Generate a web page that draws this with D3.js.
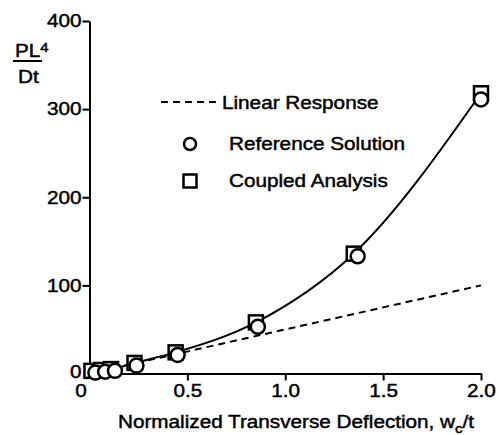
<!DOCTYPE html>
<html lang="en">
<head>
    <meta charset="UTF-8">
    <title>Normalized Transverse Deflection</title>
    <script src="https://d3js.org/d3.v7.min.js"></script>
    <style>
        body {
            margin: 0;
            background-color: white;
        }
        text {
            font-family: "Liberation Sans", Arial, sans-serif;
            font-size: 18px;
            fill: black;
            stroke: black;
            stroke-width: 0.45;
        }
        .axis path, .axis line {
            stroke: black;
            stroke-width: 2;
        }
    </style>
</head>
<body>
    <script>
        // data
        const refX = [0.03, 0.08, 0.13, 0.24, 0.45, 0.86, 1.37, 2.0];
        const refY = [1, 2, 3, 9, 21, 53, 133, 311];
        const cplX = [0.01, 0.06, 0.11, 0.23, 0.44, 0.85, 1.35, 2.0];
        const cplY = [3, 4, 5, 12, 24, 58, 136, 318];
        const linX = [0, 2.0];
        const linY = [0, 100];
        const xTicks = [0, 0.5, 1.0, 1.5, 2.0];
        const yTicks = [0, 100, 200, 300, 400];
        const legendLabels = ["Linear Response", "Reference Solution", "Coupled Analysis"];

        const width = 499, height = 435;
        const stretch = 1.15; // the scanned lettering is wider than Arial

        const svg = d3.select("body")
            .append("svg")
            .attr("width", width)
            .attr("height", height);

        const x = d3.scaleLinear().domain([0, 2.0]).range([89.5, 481]);
        const y = d3.scaleLinear().domain([0, 400]).range([373.5, 21]);

        // x axis
        const xAxis = svg.append("g")
            .attr("class", "axis")
            .attr("transform", `translate(0,${y(0)})`)
            .call(d3.axisBottom(x).tickValues(xTicks).tickFormat(d3.format(".1f"))
                .tickSize(7).tickSizeOuter(0).tickPadding(4));
        xAxis.selectAll("text").text(d => d === 0 ? "0" : d3.format(".1f")(d))
            .attr("dx", d => d === 0 ? -9 : 0);
        xAxis.selectAll(".tick").filter(d => d === 0).select("line").remove();

        // y axis
        const yAxis = svg.append("g")
            .attr("class", "axis")
            .attr("transform", `translate(${x(0)},0)`)
            .call(d3.axisLeft(y).tickValues(yTicks).tickSize(7).tickSizeOuter(0).tickPadding(1));
        yAxis.selectAll(".tick").filter(d => d === 0).select("line").remove();
        yAxis.selectAll(".tick").filter(d => d === 0).select("text").attr("dy", "0.2em");
        svg.selectAll(".axis text").attr("font-size", 18).attr("font-family", null);

        // linear response
        const line = d3.line().x(d => x(d[0])).y(d => y(d[1]));
        svg.append("path")
            .datum(d3.zip(linX, linY))
            .attr("d", line)
            .attr("fill", "none")
            .attr("stroke", "black")
            .attr("stroke-width", 2)
            .attr("stroke-dasharray", "7,5");

        // coupled analysis curve
        svg.append("path")
            .datum(d3.zip(cplX, cplY))
            .attr("d", line.curve(d3.curveMonotoneX))
            .attr("fill", "none")
            .attr("stroke", "black")
            .attr("stroke-width", 2);

        // markers: squares under circles
        const sq = 14;
        svg.selectAll(".cpl")
            .data(d3.zip(cplX, cplY))
            .enter().append("rect")
            .attr("class", "cpl")
            .attr("x", d => x(d[0]) - sq / 2)
            .attr("y", d => y(d[1]) - sq / 2)
            .attr("width", sq)
            .attr("height", sq)
            .attr("fill", "white")
            .attr("stroke", "black")
            .attr("stroke-width", 2.5);

        svg.selectAll(".ref")
            .data(d3.zip(refX, refY))
            .enter().append("circle")
            .attr("class", "ref")
            .attr("cx", d => x(d[0]))
            .attr("cy", d => y(d[1]))
            .attr("r", 7)
            .attr("fill", "white")
            .attr("stroke", "black")
            .attr("stroke-width", 2.5);

        // legend
        const lg = svg.append("g");
        lg.append("line")
            .attr("x1", 161).attr("x2", 216)
            .attr("y1", 102).attr("y2", 102)
            .attr("stroke", "black").attr("stroke-width", 2)
            .attr("stroke-dasharray", "7,5");
        lg.append("circle")
            .attr("cx", 190).attr("cy", 144).attr("r", 6)
            .attr("fill", "white").attr("stroke", "black").attr("stroke-width", 2.5);
        lg.append("rect")
            .attr("x", 190 - 6.5).attr("y", 181 - 6.5).attr("width", 13).attr("height", 13)
            .attr("fill", "white").attr("stroke", "black").attr("stroke-width", 2.5);
        lg.selectAll(".lbl")
            .data(legendLabels)
            .enter().append("text")
            .attr("class", "lbl")
            .attr("x", (d, i) => i === 0 ? 222 : 229)
            .attr("y", (d, i) => [109, 150, 187][i])
            .text(d => d);

        // x axis title
        const xt = svg.append("text")
            .attr("x", 118)
            .attr("y", 428);
        xt.append("tspan").text("Normalized Transverse Deflection, w");
        xt.append("tspan").attr("dy", 5).attr("font-size", 13).text("c");
        xt.append("tspan").attr("dy", -5).text("/t");

        // y axis title
        const yt = svg.append("text").attr("x", 15).attr("y", 57);
        yt.append("tspan").text("PL");
        yt.append("tspan").attr("dy", -5).attr("font-size", 13).text("4");
        svg.append("line")
            .attr("x1", 13).attr("x2", 42)
            .attr("y1", 61).attr("y2", 61)
            .attr("stroke", "black").attr("stroke-width", 2);
        svg.append("text").attr("x", 18).attr("y", 83).text("Dt");

        // widen lettering to match the scan
        svg.selectAll("text").each(function () {
            const w = this.getComputedTextLength();
            d3.select(this)
                .attr("textLength", w * stretch)
                .attr("lengthAdjust", "spacingAndGlyphs");
        });
    </script>
</body>
</html>
